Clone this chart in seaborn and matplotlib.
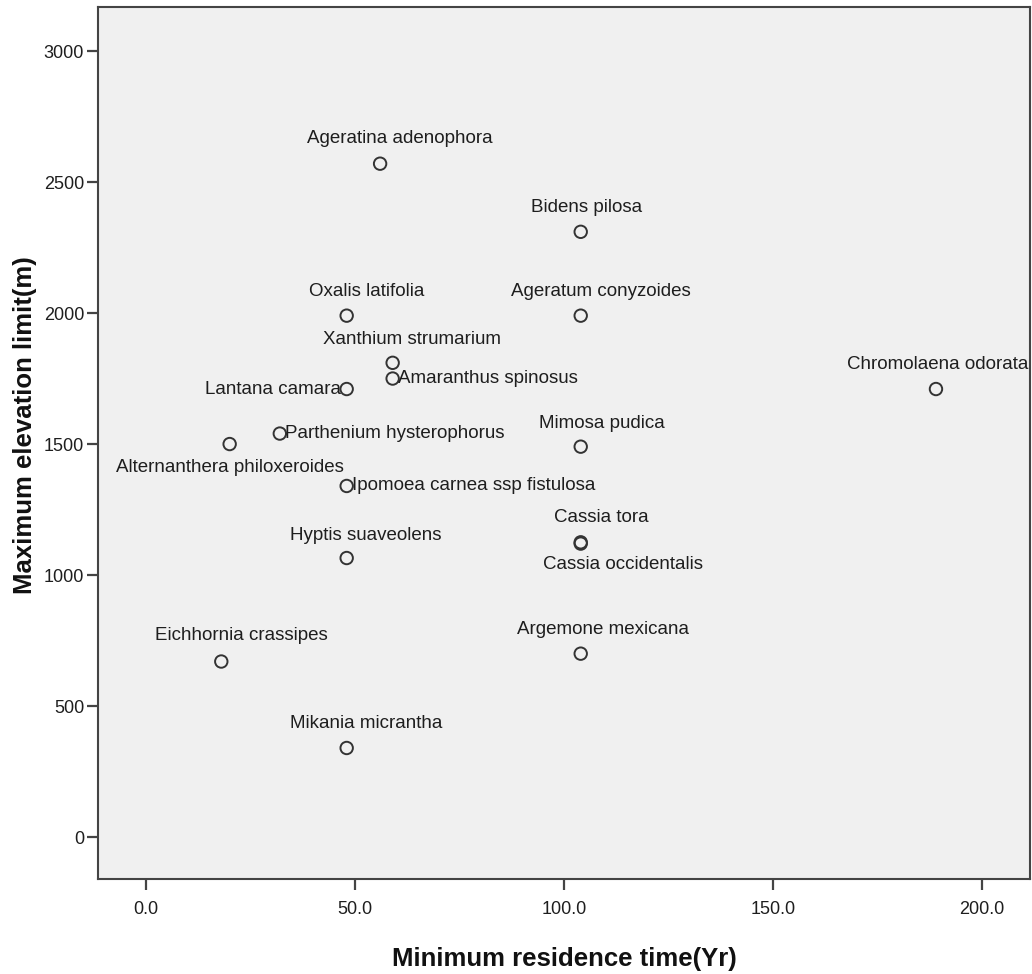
import matplotlib
matplotlib.use("Agg")
import matplotlib.pyplot as plt
from matplotlib import font_manager
import seaborn as sns
import pandas as pd

# Invasive plant species: minimum residence time vs. maximum elevation limit
species = [
    "Ageratina adenophora", "Bidens pilosa", "Oxalis latifolia",
    "Ageratum conyzoides", "Xanthium strumarium", "Amaranthus spinosus",
    "Lantana camara", "Chromolaena odorata", "Parthenium hysterophorus",
    "Alternanthera philoxeroides", "Mimosa pudica",
    "Ipomoea carnea ssp fistulosa", "Cassia tora", "Cassia occidentalis",
    "Hyptis suaveolens", "Eichhornia crassipes", "Argemone mexicana",
    "Mikania micrantha",
]
residence_years = [56, 104, 48, 104, 59, 59, 48, 189, 32, 20, 104, 48,
                   104, 104, 48, 18, 104, 48]
max_elevation_m = [2570, 2310, 1990, 1990, 1810, 1750, 1710, 1710, 1540,
                   1500, 1490, 1340, 1125, 1120, 1065, 670, 700, 340]

x_ticks = [0, 50, 100, 150, 200]
y_ticks = [0, 500, 1000, 1500, 2000, 2500, 3000]

df = pd.DataFrame({"species": species,
                   "residence": residence_years,
                   "elevation": max_elevation_m})

# Label placement (pixel offsets from each marker, with alignment)
label_layout = {
    "Ageratina adenophora": (20, 25, "center"),
    "Bidens pilosa": (6, 24, "center"),
    "Oxalis latifolia": (20, 24, "center"),
    "Ageratum conyzoides": (20, 24, "center"),
    "Xanthium strumarium": (19, 23, "center"),
    "Amaranthus spinosus": (5, 0, "left"),
    "Lantana camara": (-6, 0, "right"),
    "Chromolaena odorata": (2, 25, "center"),
    "Parthenium hysterophorus": (5, 0, "left"),
    "Alternanthera philoxeroides": (0, -23, "center"),
    "Mimosa pudica": (21, 23, "center"),
    "Ipomoea carnea ssp fistulosa": (5, 0, "left"),
    "Cassia tora": (21, 25, "center"),
    "Cassia occidentalis": (42, -21, "center"),
    "Hyptis suaveolens": (19, 23, "center"),
    "Eichhornia crassipes": (20, 26, "center"),
    "Argemone mexicana": (22, 24, "center"),
    "Mikania micrantha": (20, 24, "center"),
}

sns.set_theme(style="white")
installed = {f.name for f in font_manager.fontManager.ttflist}
if "Liberation Sans Narrow" in installed:
    text_family = ["Liberation Sans Narrow", "Liberation Sans", "DejaVu Sans"]
    tick_size, label_size = 16, 16.5
else:
    text_family = ["Liberation Sans", "DejaVu Sans"]
    tick_size, label_size = 13, 13.5
plt.rcParams["font.family"] = text_family

ink = "#1e1e1e"
frame = "#444444"

fig = plt.figure(figsize=(10.32, 9.74), dpi=100)
fig.patch.set_facecolor("white")
ax = fig.add_axes([98 / 1032, 95 / 974, 932 / 1032, 872 / 974])
ax.set_facecolor("#f0f0f0")

sns.scatterplot(data=df, x="residence", y="elevation", ax=ax,
                marker="o", s=80, facecolor="none", edgecolor="#333333",
                linewidth=1.4, legend=False, zorder=3)

for name, xv, yv in zip(species, residence_years, max_elevation_m):
    dx, dy, ha = label_layout[name]
    ax.annotate(name, (xv, yv), xytext=(dx, dy), textcoords="offset pixels",
                ha=ha, va="center", fontsize=label_size, color=ink,
                family=text_family, zorder=4)

ax.set_xlim(-11.5, 211.5)
ax.set_ylim(-160, 3168)
ax.set_xticks(x_ticks)
ax.set_xticklabels([f"{v:.1f}" for v in x_ticks])
ax.set_yticks(y_ticks)
ax.set_yticklabels([str(v) for v in y_ticks])
ax.tick_params(axis="both", which="major", bottom=True, left=True,
               top=False, right=False, direction="out", length=8,
               width=1.6, color=frame, labelcolor=ink, labelsize=tick_size)
ax.tick_params(axis="x", pad=8)
ax.tick_params(axis="y", pad=2)
for lab in ax.get_xticklabels() + ax.get_yticklabels():
    lab.set_family(text_family)

for spine in ax.spines.values():
    spine.set_visible(True)
    spine.set_color(frame)
    spine.set_linewidth(1.5)

bold_family = ["Liberation Sans", "DejaVu Sans"]
ax.set_xlabel("Minimum residence time(Yr)", fontsize=18.5, fontweight="bold",
              color="#111111", family=bold_family, va="baseline")
ax.xaxis.set_label_coords(0.5, -0.1)
ax.set_ylabel("Maximum elevation limit(m)", fontsize=18.5, fontweight="bold",
              color="#111111", family=bold_family, va="center")
ax.yaxis.set_label_coords(-0.078, 0.52)

fig.savefig("out.png", dpi=100)
